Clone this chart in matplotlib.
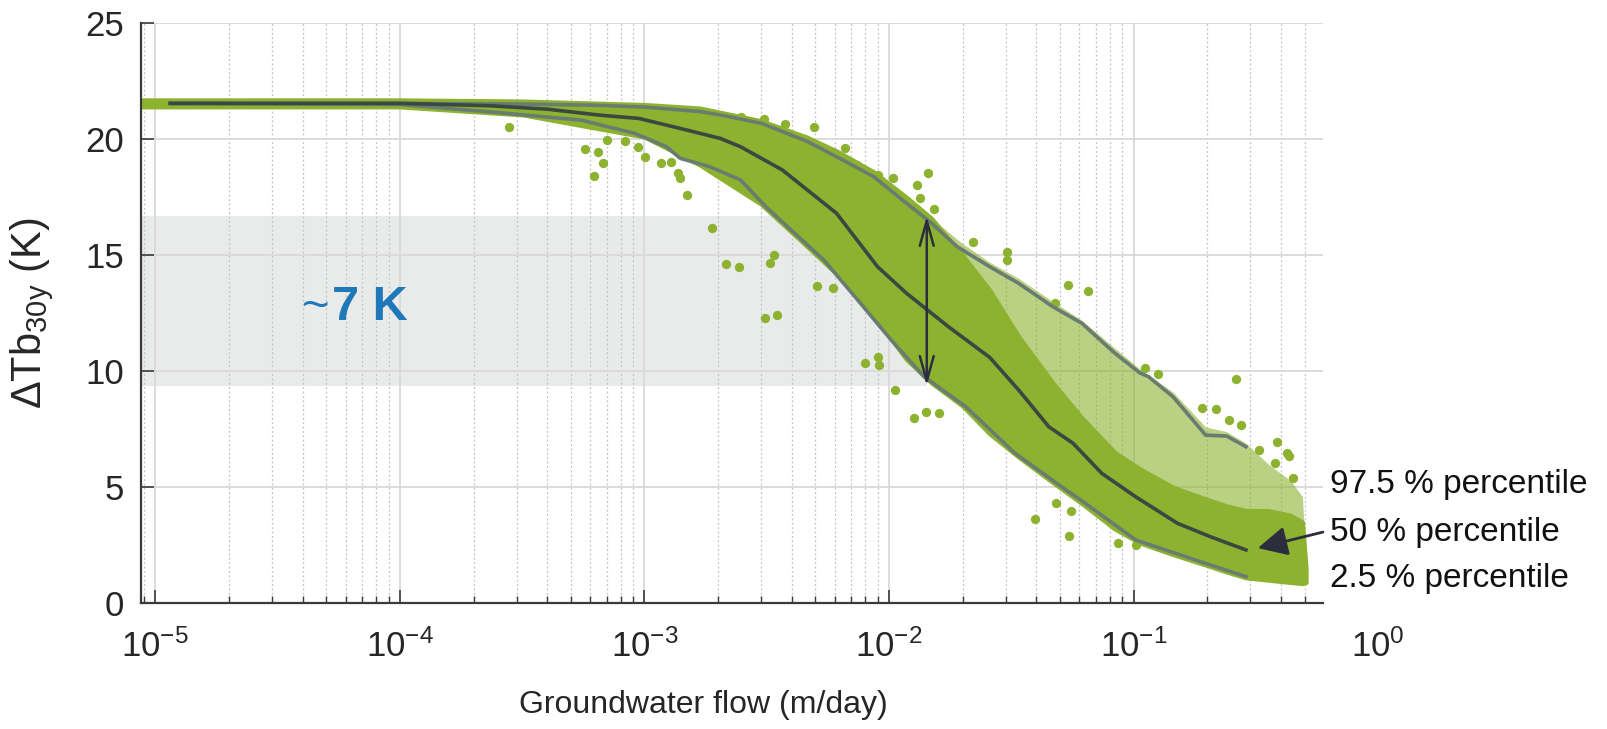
import matplotlib
matplotlib.use('Agg')
import matplotlib.pyplot as plt
import numpy as np

plt.rcParams['font.family'] = ['Liberation Sans', 'DejaVu Sans']
plt.rcParams['mathtext.fontset'] = 'custom'
plt.rcParams['mathtext.rm'] = 'Liberation Sans'
plt.rcParams['mathtext.it'] = 'Liberation Sans:italic'
plt.rcParams['mathtext.bf'] = 'Liberation Sans:bold'

# percentile curves (groundwater flow in m/day, dTb in K)
p975_x = [1.15e-5, 1e-4, 3.16e-4, 6.3e-4, 1e-3, 1.68e-3, 2.04e-3, 3.01e-3, 4.65e-3, 6.1e-3, 8.65e-3,
          1.18e-2, 1.49e-2, 1.9e-2, 2.58e-2, 3.39e-2, 4.68e-2, 6.14e-2, 8.38e-2, 0.106, 0.115,
          0.145, 0.197, 0.24, 0.288]
p975_y = [21.55, 21.55, 21.52, 21.47, 21.39, 21.2, 21.05, 20.69, 19.9, 19.25, 18.39,
          17.24, 16.39, 15.37, 14.51, 13.79, 12.78, 12.07, 10.78, 9.93, 9.77,
          8.9, 7.25, 7.21, 6.75]

p50_x = [1.15e-5, 1e-4, 2.3e-4, 4e-4, 6.6e-4, 9.5e-4, 1.4e-3, 2.04e-3, 2.47e-3, 3.66e-3, 6.1e-3,
         8.97e-3, 1.18e-2, 1.75e-2, 2.58e-2, 3.39e-2, 4.5e-2, 5.65e-2, 7.41e-2, 0.102, 0.151,
         0.206, 0.288]
p50_y = [21.55, 21.55, 21.45, 21.3, 21.04, 20.9, 20.47, 20.04, 19.68, 18.68, 16.81,
         14.51, 13.36, 11.92, 10.6, 9.19, 7.61, 6.9, 5.6, 4.59, 3.45,
         2.87, 2.3]

p025_x = [1.15e-5, 1e-4, 2.3e-4, 5.5e-4, 9.1e-4, 1.23e-3, 1.4e-3, 1.85e-3, 2.47e-3, 3.13e-3, 4.11e-3,
          5.41e-3, 7.45e-3, 1.02e-2, 1.39e-2, 2.06e-2, 3.27e-2, 4.85e-2, 6.64e-2, 0.102, 0.197, 0.288]
p025_y = [21.55, 21.5, 21.19, 20.83, 20.26, 19.68, 19.18, 18.82, 18.25, 17.1, 15.95,
          14.8, 13.07, 11.35, 9.77, 8.47, 6.47, 5.17, 4.16, 2.73, 1.72, 1.15]

# outline of the simulated point cloud (dense core and sparse upper part)
cloud_x = [8.7e-6, 1e-4, 3.2e-4, 1e-3, 1.68e-3, 3e-3, 4.6e-3, 6.1e-3, 8.65e-3, 1.18e-2, 1.49e-2,
           2e-2, 2.58e-2, 3.39e-2, 4.68e-2, 6.14e-2, 8.38e-2, 0.106, 0.145, 0.197, 0.24, 0.288,
           0.355, 0.437, 0.49, 0.507]
cloud_top = [21.7, 21.7, 21.65, 21.5, 21.35, 20.8, 20.1, 19.5, 18.6, 17.5, 16.6,
             15.5, 14.7, 14.0, 13.0, 12.2, 11.0, 10.1, 9.1, 7.6, 7.4, 6.9,
             6.0, 5.3, 4.6, 1.5]
cloud_core = [21.7, 21.7, 21.65, 21.5, 21.35, 20.8, 20.1, 19.5, 18.6, 17.5, 16.6,
              15.0, 13.5, 11.5, 9.5, 8.0, 6.5, 5.8, 5.0, 4.5, 4.2, 4.0,
              4.0, 3.8, 3.5, 1.5]
cloud_bot = [21.4, 21.4, 21.05, 20.1, 18.9, 17.2, 15.4, 14.2, 12.4, 10.5, 9.5,
             8.5, 7.3, 6.3, 5.2, 4.3, 3.2, 2.6, 2.1, 1.65, 1.35, 1.1,
             1.0, 0.9, 0.85, 0.9]

# scattered single runs outside the cloud
out_x = [2.79e-4, 5.69e-4, 6.46e-4, 6.76e-4, 6.21e-4, 7.02e-4, 8.32e-4, 9.4e-4, 1.005e-3, 1.167e-3,
         1.288e-3, 1.377e-3, 1.403e-3, 1.486e-3, 1.888e-3, 2.148e-3, 2.438e-3, 3.266e-3, 3.373e-3,
         3.105e-3, 3.475e-3, 5.07e-3, 5.89e-3, 7.94e-3, 8.99e-3, 9.06e-3, 4.93e-3, 6.59e-3, 3.75e-3,
         3.08e-3, 2.47e-3, 7.38e-3, 8.99e-3, 1.035e-2, 1.442e-2, 1.3e-2, 1.337e-2, 1.524e-2, 2.198e-2,
         3.03e-2, 3.03e-2, 5.4e-2, 6.52e-2, 4.78e-2, 0.111, 0.126, 0.263, 1.054e-2, 1.262e-2, 1.413e-2,
         1.6e-2, 3.95e-2, 4.81e-2, 5.45e-2, 5.55e-2, 8.65e-2, 0.102, 0.19, 0.218, 0.245, 0.275, 0.385,
         0.424, 0.432, 0.324, 0.377, 0.448]
out_y = [20.52, 19.58, 19.44, 19.0, 18.43, 19.97, 19.94, 19.68, 19.25, 18.99,
         19.03, 18.53, 18.32, 17.6, 16.16, 14.63, 14.48, 14.68, 15.01,
         12.31, 12.43, 13.68, 13.58, 10.34, 10.63, 10.27, 20.54, 19.61, 20.64,
         20.86, 20.97, 18.9, 18.46, 18.32, 18.53, 18.03, 17.46, 16.98, 15.56,
         15.16, 14.8, 13.72, 13.47, 12.93, 10.13, 9.88, 9.65, 9.19, 7.97, 8.26,
         8.22, 3.62, 4.34, 2.91, 3.98, 2.59, 2.51, 8.41, 8.36, 7.9, 7.69, 6.97,
         6.47, 6.35, 6.61, 6.03, 5.39]

# spread of the 50 % curve at the turning point
band_x = [8.7e-6, 1.426e-2]
band_lo = 9.38
band_hi = 16.69

labels_right = ['97.5 % percentile', '50 % percentile', '2.5 % percentile']

green = '#8cb230'
line_col = '#687d6f'
med_col = '#3b4741'
navy = '#2b2e3d'
blue = '#1f78b8'

fig = plt.figure(figsize=(16.08, 7.29), dpi=100)
ax = fig.add_axes([0.0874, 0.1724, 0.7353, 0.7956])
ax.set_xscale('log')
ax.set_xlim(8.7e-6, 0.594)
ax.set_ylim(0, 25)
ax.set_yticks([0, 5, 10, 15, 20, 25])

ax.set_axisbelow(True)
ax.grid(True, which='major', color='#d9d9d9', lw=1.3, ls='-')
ax.grid(True, which='minor', axis='x', color='#c2c2c2', lw=0.9, ls=(0, (1.5, 2)))

ax.fill_between(band_x, band_lo, band_hi, color='#e9ebea', lw=0, zorder=0.3)

ax.fill_between(cloud_x, cloud_core, cloud_top, color=green, alpha=0.6, lw=0, zorder=2)
ax.fill_between(cloud_x, cloud_bot, cloud_core, facecolor=green, edgecolor=green, lw=3, zorder=2)
ax.scatter(out_x, out_y, s=45, color=green, lw=0, zorder=2)

ax.plot(p975_x, p975_y, color=line_col, lw=2.6, zorder=3)
ax.plot(p025_x, p025_y, color=line_col, lw=2.6, zorder=3)
ax.plot(p50_x, p50_y, color=med_col, lw=2.6, zorder=3)

ax.annotate('', xy=(band_x[1], band_hi), xytext=(band_x[1], band_lo),
            arrowprops=dict(arrowstyle='<->,head_length=1.8,head_width=0.5', color=navy,
                            lw=1.8, shrinkA=0, shrinkB=0), zorder=4)
ax.annotate('', xy=(0.322, 2.38), xytext=(0.594, 3.07), annotation_clip=False,
            arrowprops=dict(arrowstyle='-|>,head_length=1.8,head_width=0.9', color=navy,
                            lw=2.0, shrinkA=0, shrinkB=0), zorder=4)

for side in ['top', 'right']:
    ax.spines[side].set_visible(False)
for side in ['left', 'bottom']:
    ax.spines[side].set_color('#3a3a3a')
    ax.spines[side].set_linewidth(1.6)

ax.tick_params(which='both', direction='in', top=False, right=False, colors='#3a3a3a',
               labelcolor='#262626', labelsize=25)
ax.tick_params(which='major', length=9.5, width=1.2)
ax.tick_params(which='minor', length=5, width=1.0)
ax.tick_params(axis='x', pad=19)
ax.tick_params(axis='y', pad=12)

# 10^0 sits outside the axis range, put it next to the other labels
lab_trans = ax.xaxis.get_majorticklabels()[0].get_transform()
ax.text(1.0, 0, r'$\mathdefault{10^{0}}$', transform=lab_trans, ha='center', va='top',
        fontsize=25, color='#262626', clip_on=False)

fig.text(32 / 1608, 1 - 313 / 729, r'ΔTb$_{\mathrm{30y}}$ (K)', rotation=90, fontsize=30,
         ha='center', va='center', color='#262626')
fig.text(703 / 1608, 1 - 705 / 729, 'Groundwater flow (m/day)', fontsize=23,
         ha='center', va='center', color='#262626')

fig.text(302 / 1608, 1 - 320 / 729, '~', fontsize=34, color=blue, ha='left', va='baseline')
fig.text(332 / 1608, 1 - 320 / 729, '7 K', fontsize=35, color=blue, weight='bold',
         ha='left', va='baseline')

for lab, yy in zip(labels_right, [485, 533, 578]):
    fig.text(1330 / 1608, 1 - yy / 729, lab, fontsize=24, color='#111111', ha='left', va='center')

fig.savefig('out.png', dpi=100)
